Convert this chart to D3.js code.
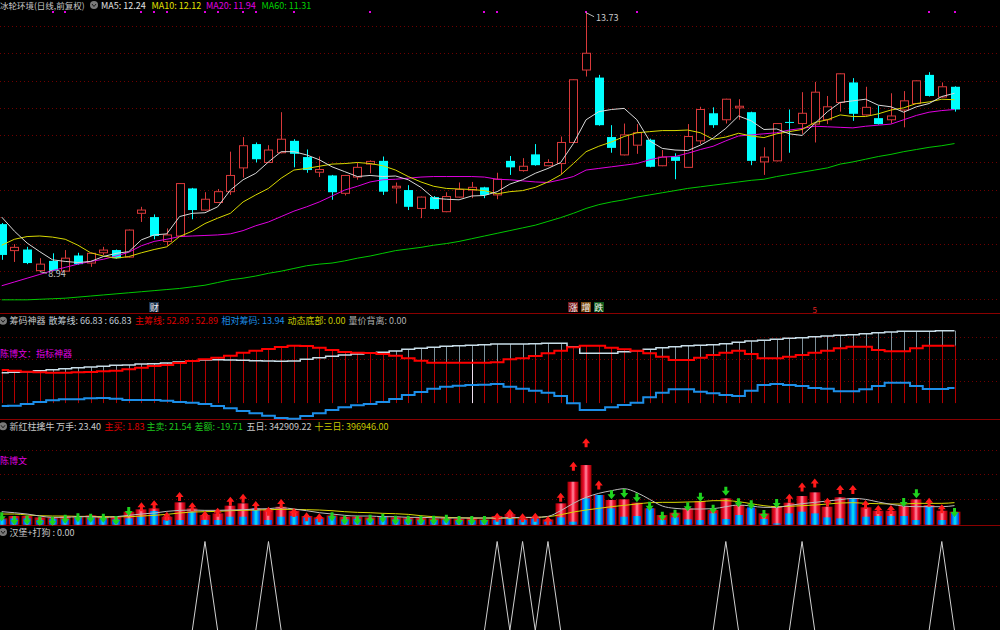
<!DOCTYPE html>
<html>
<head>
<meta charset="utf-8">
<script src="https://cdn.jsdelivr.net/npm/d3@7"></script>
<style>
body { margin: 0; background: #000; }
svg { display: block; font-family: "Noto Sans CJK SC", "Liberation Sans", sans-serif; }
</style>
</head>
<body>
<svg id="chart" width="1000" height="630"></svg>
<script>
// ---- daily prices (76 bars) ----
const openP = [9.82,9.33,9.35,8.96,9.14,8.95,9.24,9.10,9.29,9.34,
  9.21,10.02,9.95,9.50,9.60,10.48,10.08,10.22,10.42,10.86,
  11.30,10.96,11.14,11.36,11.06,10.78,10.72,10.39,10.69,10.93,
  10.99,10.49,10.45,10.11,10.32,10.05,10.32,10.45,10.50,10.36,
  10.99,10.81,11.11,10.90,10.94,11.33,12.67,12.53,11.43,11.10,
  11.28,11.38,10.90,11.07,10.87,11.36,11.87,11.75,11.97,11.89,
  10.97,10.99,11.71,11.68,11.67,11.75,12.07,12.44,11.84,11.78,
  11.75,11.93,12.05,12.58,12.17,12.36];
const highP = [9.84,9.45,9.40,9.19,9.28,9.34,9.29,9.29,9.40,9.35,
  9.72,10.14,10.00,9.74,10.58,10.49,10.41,10.47,11.16,11.43,
  11.33,11.28,11.89,11.39,11.20,11.07,10.73,10.73,10.96,11.00,
  11.07,10.59,10.54,10.33,10.34,10.41,10.59,10.60,10.51,10.77,
  11.08,11.04,11.30,11.02,11.44,12.50,13.73,12.58,11.65,11.68,
  11.67,11.40,11.19,11.13,11.67,11.99,11.98,12.14,12.13,11.90,
  11.24,11.69,11.94,12.26,12.45,12.19,12.61,12.52,12.36,12.01,
  12.24,12.28,12.48,12.63,12.44,12.37];
const lowP = [9.16,9.12,9.08,8.94,8.95,8.95,9.07,9.03,9.25,9.18,
  9.20,9.86,9.54,9.42,9.59,9.91,10.07,10.21,10.36,10.68,
  10.96,10.95,11.13,10.87,10.77,10.69,10.27,10.35,10.64,10.76,
  10.36,10.20,10.08,9.93,10.09,10.04,10.31,10.30,10.30,10.28,
  10.73,10.79,10.90,10.89,10.74,11.32,12.55,11.64,11.14,11.09,
  11.12,10.87,10.89,10.65,10.86,11.30,11.60,11.68,11.75,10.91,
  10.73,10.98,11.14,11.49,11.33,11.67,11.90,11.73,11.83,11.66,
  11.68,11.61,12.04,12.18,12.16,11.90];
const closeP = [9.25,9.39,9.10,9.08,8.96,9.19,9.08,9.28,9.34,9.19,
  9.71,10.08,9.60,9.62,10.57,10.08,10.28,10.42,10.72,11.27,
  11.02,11.19,11.39,11.12,10.82,10.83,10.41,10.72,10.87,10.98,
  10.42,10.52,10.14,10.32,10.10,10.33,10.46,10.50,10.36,10.65,
  10.87,10.89,10.91,10.96,11.33,12.49,12.98,11.65,11.23,11.47,
  11.51,10.88,11.06,10.99,11.44,11.94,11.65,12.13,12.00,10.99,
  11.06,11.68,11.70,11.87,12.26,11.99,12.60,11.86,11.98,11.67,
  11.82,12.10,12.47,12.19,12.36,11.94];

// ---- moving averages as shown ----
const ma5 = [9.95,9.69,9.47,9.31,9.16,9.13,9.11,9.13,9.22,9.28,
  9.31,9.53,9.62,9.64,9.96,10.02,10.03,10.14,10.45,10.64,
  10.76,10.97,11.16,11.16,11.10,11.01,10.88,10.79,10.70,10.72,
  10.70,10.71,10.64,10.50,10.30,10.28,10.27,10.34,10.35,10.42,
  10.56,10.64,10.76,10.85,10.96,11.31,11.75,11.90,11.94,11.96,
  11.75,11.36,11.22,11.19,11.18,11.28,11.41,11.59,11.82,11.73,
  11.57,11.58,11.49,11.46,11.68,11.90,12.07,12.10,12.13,12.02,
  11.99,11.89,11.99,12.05,12.18,12.24];
const ma10 = [9.43,9.54,9.59,9.60,9.58,9.54,9.43,9.29,9.23,9.19,
  9.22,9.29,9.35,9.40,9.59,9.69,9.83,9.93,10.02,10.23,
  10.36,10.48,10.67,10.82,10.85,10.89,10.93,10.94,10.96,10.94,
  10.90,10.82,10.70,10.60,10.52,10.48,10.47,10.46,10.44,10.38,
  10.42,10.44,10.50,10.60,10.73,10.94,11.16,11.26,11.34,11.44,
  11.51,11.53,11.55,11.55,11.56,11.51,11.39,11.43,11.50,11.45,
  11.42,11.49,11.53,11.57,11.70,11.75,11.84,11.81,11.81,11.86,
  11.93,11.97,12.05,12.08,12.13,12.12];
const ma20 = [8.68,8.75,8.82,8.89,8.96,9.02,9.08,9.13,9.17,9.23,
  9.30,9.42,9.50,9.54,9.59,9.60,9.61,9.62,9.64,9.70,
  9.79,9.86,9.96,10.06,10.14,10.23,10.34,10.45,10.52,10.60,
  10.64,10.65,10.67,10.69,10.70,10.70,10.70,10.70,10.69,10.65,
  10.64,10.62,10.60,10.59,10.64,10.70,10.82,10.85,10.88,10.91,
  10.94,11.01,11.06,11.07,11.13,11.20,11.26,11.36,11.45,11.47,
  11.49,11.51,11.56,11.59,11.63,11.62,11.61,11.60,11.63,11.65,
  11.67,11.75,11.83,11.89,11.92,11.94];
const ma60 = [8.42,8.42,8.42,8.43,8.44,8.45,8.47,8.49,8.51,8.53,
  8.55,8.57,8.59,8.61,8.63,8.66,8.69,8.74,8.79,8.82,
  8.86,8.91,8.95,9.00,9.05,9.08,9.10,9.14,9.19,9.23,
  9.28,9.33,9.36,9.39,9.43,9.46,9.50,9.55,9.60,9.65,
  9.70,9.75,9.80,9.87,9.94,10.02,10.11,10.18,10.23,10.27,
  10.32,10.36,10.40,10.44,10.48,10.51,10.54,10.57,10.60,10.63,
  10.65,10.70,10.74,10.78,10.82,10.86,10.93,10.97,11.02,11.07,
  11.11,11.16,11.20,11.24,11.27,11.31];
const mainGrid = [13.48,12.98,12.47,11.97,11.47,10.96,10.46,9.95,9.45,8.95,8.44];
const dotBars = [4,5,11,12,13,16,17,19,20,23,29,38,39,46,50,73,75];
const eventBars = [12,45,46,47];
const eventText = ["财","涨","增","跌"];
const eventFill = ["#1d3550","#7a1a1a","#7a4a10","#0f5a1a"];

// ---- 筹码神器 ----
const sanChou = [28.06,28.43,28.98,29.91,30.83,31.75,32.67,33.32,33.97,34.89,
  35.17,36.09,36.37,37.01,37.94,38.86,39.78,40.06,39.78,39.50,
  39.14,38.86,38.58,38.86,40.43,41.90,43.20,44.40,45.32,46.24,
  46.89,48.09,49.66,50.58,51.50,52.43,52.98,53.35,53.90,54.55,
  54.55,54.55,54.83,55.20,55.20,52.06,45.97,45.97,45.97,47.44,
  48.37,49.66,51.13,52.06,52.98,53.35,53.90,54.83,56.12,57.32,
  57.96,58.89,59.81,60.36,61.29,61.93,62.58,63.13,64.06,64.98,
  65.63,66.27,66.27,66.27,66.83,66.83];
const zhuChou = [30.55,29.91,28.98,28.43,28.06,28.06,28.43,28.71,29.35,29.91,
  31.20,32.67,34.24,35.17,37.01,38.86,40.43,41.90,43.75,46.52,
  48.37,49.93,51.78,52.98,52.70,51.13,49.01,47.17,46.52,46.24,
  45.32,43.75,41.35,39.14,37.29,37.29,37.29,37.29,37.29,37.66,
  40.43,41.35,43.47,45.97,48.37,51.50,52.98,52.98,51.13,49.66,
  48.37,45.97,42.83,39.78,39.78,41.90,44.40,46.52,48.37,45.32,
  41.35,41.35,42.83,44.40,46.52,48.37,50.58,52.06,52.06,49.01,
  47.81,47.81,50.58,52.89,52.89,52.89];
const xiangDui = [-2.68,-2.40,-0.83,1.02,2.58,3.51,3.51,4.43,4.71,4.06,
  2.86,2.86,2.86,2.22,1.02,0.37,-0.83,-2.68,-4.80,-7.29,
  -9.41,-11.63,-13.75,-14.40,-11.91,-9.41,-6.37,-3.88,-2.03,-0.83,
  1.02,3.78,7.48,10.25,13.29,15.14,16.06,16.71,16.98,17.63,
  15.14,13.29,11.45,9.60,6.55,-0.18,-6.37,-6.37,-3.88,-1.75,
  0.37,5.35,9.60,12.74,12.74,10.52,9.05,7.48,6.55,11.45,
  16.71,17.63,16.71,15.78,13.94,13.29,10.89,10.89,12.74,15.78,
  18.83,18.83,15.78,13.01,13.01,13.94];
const markBar = 37, markVal = 40.4;
const grid2 = [60.8, 40.5, 20.1];

// ---- 新红柱擒牛 (万手) ----
const volRed = [11.4,15.6,15.6,13.2,13.2,15.6,15.6,16.8,15.6,14.4,
  23.4,27.6,29.4,14.4,40.2,29.4,17.4,20.4,34.2,38.4,
  29.4,27.6,32.4,25.2,15.6,13.2,16.8,14.4,14.4,13.2,
  15.6,13.2,12.6,13.2,11.4,13.2,10.8,12.6,9.6,15.6,
  19.2,11.4,13.2,9.6,38.4,77.3,107.3,53.4,44.4,45.6,
  39.6,29.4,17.4,21.6,29.4,42.6,26.4,47.4,35.4,29.4,
  20.4,32.4,39.6,51.6,58.2,32.4,49.2,47.4,31.2,25.2,
  25.2,33.6,45.6,35.4,25.2,23.4];
const volBlue = [9.6,11.4,11.4,8.4,10.8,10.2,14.4,13.2,10.8,9.6,
  11.4,14.4,24.6,8.4,8.4,23.4,8.4,8.4,14.4,14.4,
  29.4,8.4,14.4,15.6,13.2,10.2,15.6,9.6,10.8,8.4,
  15.6,9.6,9.6,8.4,8.4,8.4,7.2,7.2,8.4,8.4,
  11.4,8.4,10.8,5.4,13.2,5.4,47.4,53.4,29.4,14.4,
  15.6,29.4,8.4,13.2,9.6,8.4,20.4,10.2,17.4,31.2,
  10.2,2.4,20.4,23.4,20.4,13.2,11.4,47.4,14.4,15.6,
  15.6,15.6,8.4,33.6,8.4,21.5];
const vol5 = [23.4,21.6,19.2,15.6,13.2,13.2,14.4,14.4,13.2,14.4,
  16.8,19.2,21.0,24.0,25.8,26.4,25.8,25.8,26.4,27.0,
  28.2,28.8,30.6,28.2,25.2,21.6,19.2,16.8,15.6,15.6,
  14.4,14.4,13.2,13.2,12.6,12.0,12.0,12.0,12.0,12.0,
  12.6,13.2,13.2,15.0,25.2,38.4,49.2,56.4,61.2,64.7,
  57.6,45.6,33.6,29.4,28.2,28.2,28.8,32.4,35.4,33.6,
  31.2,31.2,34.8,37.8,40.2,42.6,45.0,47.4,45.6,40.8,
  36.6,33.6,32.4,32.4,32.4,34.3];
const vol13 = [19.2,19.2,17.4,16.2,15.6,15.6,15.0,15.0,14.4,14.4,
  14.4,15.6,16.8,18.6,21.0,22.8,23.4,24.0,25.2,25.8,
  26.4,27.0,27.6,27.6,27.0,26.4,25.2,23.4,22.2,21.6,
  20.4,19.8,18.6,16.2,14.4,13.2,12.6,12.0,12.0,12.0,
  12.0,12.6,13.2,14.4,18.0,22.8,26.4,29.4,32.4,34.8,
  37.2,39.6,40.2,40.2,40.8,41.4,43.2,43.2,41.4,37.8,
  34.2,32.4,33.0,34.2,35.4,37.2,39.0,39.6,38.4,37.8,
  37.2,37.2,38.4,38.4,38.4,39.7];
const arrowDir = [-1,-1,-1,-1,-1,-1,-1,-1,-1,-1,
  -1,1,1,1,1,1,1,1,1,1,
  1,1,1,1,1,1,-1,-1,-1,-1,
  -1,-1,-1,-1,-1,-1,-1,-1,-1,1,
  1,1,1,1,1,1,1,1,-1,-1,
  -1,-1,-1,-1,-1,-1,-1,-1,-1,-1,
  -1,-1,1,1,1,1,1,1,1,1,
  1,-1,-1,1,1,-1];
const arrowVal = [15.0,8.4,9.0,7.2,7.2,10.8,13.2,12.6,12.6,8.4,
  24.6,31.2,34.8,14.4,49.8,31.2,16.2,21.6,41.4,46.8,
  33.6,23.4,37.2,21.0,13.2,11.4,15.0,9.0,9.0,10.8,
  12.6,9.0,9.0,9.0,9.0,10.8,8.4,8.4,8.4,12.6,
  19.2,11.4,12.6,6.6,48.6,104.3,146.3,70.7,54.6,57.0,
  49.2,34.2,16.2,19.8,33.0,50.4,28.8,61.2,40.2,36.6,
  19.2,39.0,46.8,67.1,74.3,39.6,62.4,62.4,35.4,26.4,
  26.4,40.8,56.4,39.6,27.6,22.8];
const grid3 = [134.4, 90.6, 45.7];

// ---- 汉堡+打狗 signal bars ----
const signalBars = [16,21,39,41,43,57,63,74];

const svg = d3.select("#chart");
const n = openP.length;
const idx = d3.range(n);

// shared x scale, one slot per trading day
const x = d3.scaleLinear().domain([0, n - 1]).range([1.7, 954.5]);
const px = i => Math.round(x(i)) + 0.5;

// panel y scales
const yP = d3.scaleLinear().domain([8.94, 13.73]).range([271.7, 12.7]);
const y2 = d3.scaleLinear().domain([0, 60]).range([403.1, 338.1]);
const y3 = d3.scaleLinear().domain([0, 100]).range([524.7, 469.1]);
const y4 = d3.scaleLinear().domain([0, 1]).range([630.5, 541.5]);

svg.append("rect").attr("width", 1000).attr("height", 630).attr("fill", "#000");

// dotted grid lines
function grid(vals, sc) {
    svg.append("g").selectAll("line").data(vals).join("line")
        .attr("x1", 0).attr("x2", 1000)
        .attr("y1", d => Math.round(sc(d)) + 0.5).attr("y2", d => Math.round(sc(d)) + 0.5)
        .attr("stroke", "#6e0000").attr("stroke-dasharray", "1,3");
}
grid(mainGrid, yP);
grid(grid2, y2);
grid(grid3, y3);
grid([0.5], y4);

// panel separators
svg.append("g").selectAll("line").data([313.5, 419.5, 525.5]).join("line")
    .attr("x1", 0).attr("x2", 1000).attr("y1", d => d).attr("y2", d => d)
    .attr("stroke", "#8a0000");

// ================= main panel =================
const UP = "#d8393a", DOWN = "#00ffff";
const isUp = i => closeP[i] >= openP[i];

const candles = svg.append("g");
// wicks; up candles are hollow so draw the wick outside the body only
candles.selectAll("line.hi").data(idx).join("line")
    .attr("x1", px).attr("x2", px)
    .attr("y1", i => yP(highP[i]))
    .attr("y2", i => isUp(i) ? yP(closeP[i]) : yP(lowP[i]))
    .attr("stroke", i => isUp(i) ? UP : DOWN);
candles.selectAll("line.lo").data(idx.filter(isUp)).join("line")
    .attr("x1", px).attr("x2", px)
    .attr("y1", i => yP(openP[i])).attr("y2", i => yP(lowP[i]))
    .attr("stroke", UP);
candles.selectAll("rect").data(idx).join("rect")
    .attr("x", i => Math.round(x(i)) - 4 + (isUp(i) ? 0.5 : 0))
    .attr("width", i => isUp(i) ? 8 : 9)
    .attr("y", i => yP(Math.max(openP[i], closeP[i])))
    .attr("height", i => Math.max(1, Math.abs(yP(openP[i]) - yP(closeP[i]))))
    .attr("fill", i => isUp(i) ? "#000" : DOWN)
    .attr("stroke", i => isUp(i) ? UP : "none");

// moving average lines
const maLine = d3.line().x((d, i) => x(i)).y(d => yP(d));
[[ma60, "#00c800"], [ma20, "#e000e0"], [ma10, "#d8d800"], [ma5, "#d8d8d8"]].forEach(([s, c]) => {
    svg.append("path").attr("d", maLine(s)).attr("fill", "none")
        .attr("stroke", c).attr("stroke-width", 1);
});

// magenta dots along the top
svg.append("g").selectAll("rect").data(dotBars).join("rect")
    .attr("x", i => Math.round(x(i)) - 1).attr("y", 11).attr("width", 2).attr("height", 2)
    .attr("fill", "#e000e0");

// extreme labels
const hiI = highP.indexOf(d3.max(highP)), loI = lowP.indexOf(d3.min(lowP));
svg.append("path").attr("d", `M${x(hiI)},${yP(highP[hiI])} L${x(hiI) + 8},${yP(highP[hiI]) + 4}`)
    .attr("stroke", "#bbb").attr("fill", "none");
svg.append("text").attr("x", x(hiI) + 10).attr("y", yP(highP[hiI]) + 5)
    .attr("dominant-baseline", "central").attr("fill", "#c8c8c8").attr("font-size", 9)
    .text(d3.max(highP).toFixed(2));
svg.append("path").attr("d", `M${x(loI)},${yP(lowP[loI])} L${x(loI) + 7},${yP(lowP[loI]) + 1.5}`)
    .attr("stroke", "#bbb").attr("fill", "none");
svg.append("text").attr("x", x(loI) + 8.5).attr("y", yP(lowP[loI]) + 1.5)
    .attr("dominant-baseline", "central").attr("fill", "#c8c8c8").attr("font-size", 9)
    .text(d3.min(lowP).toFixed(2));

// event tags under the candles
const ev = svg.append("g").selectAll("g").data(eventBars).join("g");
ev.append("rect").attr("x", i => Math.round(x(i)) - 5).attr("y", 302).attr("width", 10).attr("height", 10)
    .attr("fill", (d, k) => eventFill[k]);
ev.append("text").attr("x", i => x(i)).attr("y", 307).attr("text-anchor", "middle")
    .attr("dominant-baseline", "central").attr("font-size", 9).attr("fill", "#eee")
    .text((d, k) => eventText[k]);
svg.append("text").attr("x", x(64)).attr("y", 309).attr("text-anchor", "middle")
    .attr("dominant-baseline", "central").attr("font-size", 8).attr("fill", "#e02020").text("5");

// header icons
function icon(cx, cy) {
    svg.append("circle").attr("cx", cx).attr("cy", cy).attr("r", 4).attr("fill", "#7a7a7a");
    svg.append("path").attr("d", `M${cx - 2},${cy - 1} L${cx},${cy + 1.5} L${cx + 2},${cy - 1}`)
        .attr("stroke", "#1a1a1a").attr("fill", "none");
}
function label(tx, ty, str, color, fs = 9) {
    svg.append("text").attr("x", tx).attr("y", ty).attr("dominant-baseline", "central")
        .attr("font-size", fs).attr("fill", color).text(str);
}
label(0, 5, "冰轮环境(日线,前复权)", "#c8c8c8", 8.5);
icon(94, 5);
label(101, 5, "MA5: " + ma5[n - 1].toFixed(2), "#e0e0e0");
label(151.5, 5, "MA10: " + ma10[n - 1].toFixed(2), "#e0e000");
label(206, 5, "MA20: " + ma20[n - 1].toFixed(2), "#e000e0");
label(261.5, 5, "MA60: " + ma60[n - 1].toFixed(2), "#00d000");

// ================= 筹码神器 =================
const p2 = svg.append("g");
idx.forEach(i => {
    const w = sanChou[i], r = zhuChou[i];
    if (w > r) {
        p2.append("line").attr("x1", px(i)).attr("x2", px(i))
            .attr("y1", y2(w)).attr("y2", y2(r)).attr("stroke", "#7c8e98");
    }
    p2.append("line").attr("x1", px(i)).attr("x2", px(i))
        .attr("y1", y2(r)).attr("y2", y2(0)).attr("stroke", "#b40000");
});
p2.append("line").attr("x1", px(markBar)).attr("x2", px(markBar))
    .attr("y1", y2(markVal)).attr("y2", y2(0)).attr("stroke", "#f0e0f0");
const l2 = d3.line().x((d, i) => x(i)).y(d => y2(d)).curve(d3.curveStep);
p2.append("path").attr("d", l2(sanChou)).attr("fill", "none").attr("stroke", "#c8dde8").attr("stroke-width", 1.5);
p2.append("path").attr("d", l2(zhuChou)).attr("fill", "none").attr("stroke", "#ff0000").attr("stroke-width", 2);
p2.append("path").attr("d", l2(xiangDui)).attr("fill", "none").attr("stroke", "#1c8ee8").attr("stroke-width", 2);

icon(3, 320.7);
label(9.5, 320.7, "筹码神器", "#c8c8c8");
label(48.5, 320.7, "散筹线: " + sanChou[n - 1].toFixed(2) + " : " + sanChou[n - 1].toFixed(2), "#c0ccd6");
label(135, 320.7, "主筹线: " + zhuChou[n - 1].toFixed(2) + " : " + zhuChou[n - 1].toFixed(2), "#e00000");
label(221.5, 320.7, "相对筹码: " + xiangDui[n - 1].toFixed(2), "#1c8ee8");
label(287.5, 320.7, "动态底部: 0.00", "#c8c800");
label(348.5, 320.7, "量价背离: 0.00", "#b0b0b0");
label(0, 353.5, "陈博文：指标神器", "#e000e0");

// ================= 新红柱擒牛 =================
const defs = svg.append("defs");
const gRed = defs.append("linearGradient").attr("id", "gRed");
[[0, "#9a0000"], [0.3, "#f01030"], [0.5, "#ff8ca0"], [0.7, "#f01030"], [1, "#9a0000"]]
    .forEach(([o, c]) => gRed.append("stop").attr("offset", o).attr("stop-color", c));
const gBlue = defs.append("linearGradient").attr("id", "gBlue");
[[0, "#0838e0"], [0.5, "#00eaff"], [1, "#0838e0"]]
    .forEach(([o, c]) => gBlue.append("stop").attr("offset", o).attr("stop-color", c));

const p3 = svg.append("g");
p3.selectAll("rect.r").data(idx).join("rect")
    .attr("x", i => Math.round(x(i)) - 5.5).attr("width", 11)
    .attr("y", i => y3(volRed[i])).attr("height", i => y3(0) - y3(volRed[i]))
    .attr("fill", "url(#gRed)");
p3.selectAll("rect.b").data(idx).join("rect")
    .attr("x", i => Math.round(x(i)) - 4).attr("width", 8)
    .attr("y", i => y3(volBlue[i])).attr("height", i => y3(0) - y3(volBlue[i]))
    .attr("fill", "url(#gBlue)");
const l3 = d3.line().x((d, i) => x(i)).y(d => y3(d)).curve(d3.curveMonotoneX);
p3.append("path").attr("d", l3(vol13)).attr("fill", "none").attr("stroke", "#d8d800");
p3.append("path").attr("d", l3(vol5)).attr("fill", "none").attr("stroke", "#bdbdbd");

// up / down arrows
p3.selectAll("path.ar").data(idx).join("path")
    .attr("d", i => {
        const cx = x(i), cy = y3(arrowVal[i]), s = arrowDir[i];
        return `M${cx},${cy - 5 * s} L${cx + 4},${cy} L${cx + 1.5},${cy} L${cx + 1.5},${cy + 4 * s}` +
            ` L${cx - 1.5},${cy + 4 * s} L${cx - 1.5},${cy} L${cx - 4},${cy} Z`;
    })
    .attr("fill", i => arrowDir[i] > 0 ? "#ff1a1a" : "#1ed21e");

icon(3, 426.3);
label(9.5, 426.3, "新红柱擒牛", "#c8c8c8");
label(56, 426.3, "万手: " + volRed[n - 1].toFixed(2), "#c8c8c8");
label(104.5, 426.3, "主买: 1.83", "#e00000");
label(146.5, 426.3, "主卖: 21.54", "#1ec81e");
label(194.5, 426.3, "差额: -19.71", "#1ec81e");
label(246.5, 426.3, "五日: 342909.22", "#c8c8c8");
label(314.5, 426.3, "十三日: 396946.00", "#c8c800");
label(0, 460.5, "陈博文", "#e000e0");

// ================= 汉堡+打狗 =================
const signal = idx.map(i => signalBars.includes(i) ? 1 : 0);
svg.append("path")
    .attr("d", d3.line().x((d, i) => x(i)).y(d => y4(d))(signal))
    .attr("fill", "none").attr("stroke", "#d0d0d0");
icon(3, 532);
label(9.5, 532, "汉堡+打狗 : 0.00", "#c8c8c8");
</script>
</body>
</html>
